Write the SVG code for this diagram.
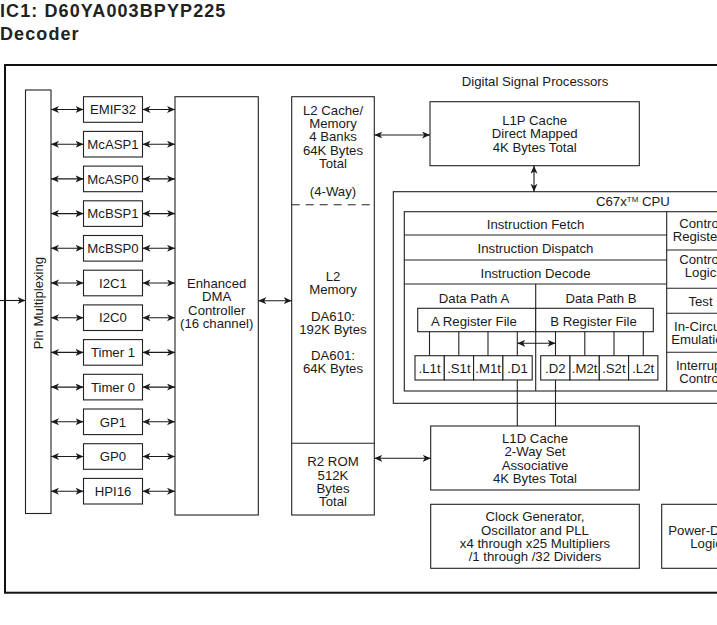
<svg xmlns="http://www.w3.org/2000/svg" width="717" height="625" viewBox="0 0 717 625">
<style>
text{font-family:"Liberation Sans",Arial,Helvetica,sans-serif;font-size:13.2px;fill:#1a1a1a}
.t{text-anchor:middle}
.title{font-size:18px;font-weight:bold;letter-spacing:1.1px;fill:#222}
.b{fill:#fff;stroke:#222;stroke-width:1.1}
.ln{fill:none;stroke:#222;stroke-width:1.1}
.ar{fill:none;stroke:#1a1a1a;stroke-width:1.1;marker-end:url(#ah)}
.dar{fill:none;stroke:#1a1a1a;stroke-width:1.1;marker-start:url(#ah);marker-end:url(#ah)}
</style>
<defs>
<marker id="ah" markerUnits="userSpaceOnUse" markerWidth="9" markerHeight="8" refX="8" refY="3.5" orient="auto-start-reverse">
<path d="M0,0 L8,3.5 L0,7 L2.2,3.5 Z" fill="#1a1a1a"/>
</marker>
</defs>
<rect width="717" height="625" fill="#fff"/>
<g id="title">
<text class="title" x="0" y="16.5">IC1:  D60YA003BPYP225</text>
<text class="title" x="0" y="39.5">Decoder</text>
</g>
<g id="frame">
<rect x="5" y="65" width="760" height="527.7" fill="none" stroke="#111" stroke-width="2"/>
<text class="t" x="535" y="86.4">Digital Signal Processors</text>
</g>
<g id="pinmux">
<rect class="b" x="25.5" y="90" width="25.5" height="423.5"/>
<text class="t" transform="translate(42.5,303) rotate(-90)">Pin Multiplexing</text>
</g>
<g id="peripherals">
<g id="emif32"><rect class="b" x="83.5" y="96.7" width="59" height="25.6"/><text class="t" x="113" y="114.2">EMIF32</text></g>
<g id="mcasp1"><rect class="b" x="83.5" y="131.4" width="59" height="25.6"/><text class="t" x="113" y="148.9">McASP1</text></g>
<g id="mcasp0"><rect class="b" x="83.5" y="166.1" width="59" height="25.6"/><text class="t" x="113" y="183.6">McASP0</text></g>
<g id="mcbsp1"><rect class="b" x="83.5" y="200.8" width="59" height="25.6"/><text class="t" x="113" y="218.3">McBSP1</text></g>
<g id="mcbsp0"><rect class="b" x="83.5" y="235.5" width="59" height="25.6"/><text class="t" x="113" y="253">McBSP0</text></g>
<g id="i2c1"><rect class="b" x="83.5" y="270.2" width="59" height="25.6"/><text class="t" x="113" y="287.7">I2C1</text></g>
<g id="i2c0"><rect class="b" x="83.5" y="304.9" width="59" height="25.6"/><text class="t" x="113" y="322.4">I2C0</text></g>
<g id="timer1"><rect class="b" x="83.5" y="339.6" width="59" height="25.6"/><text class="t" x="113" y="357.1">Timer 1</text></g>
<g id="timer0"><rect class="b" x="83.5" y="374.3" width="59" height="25.6"/><text class="t" x="113" y="391.8">Timer 0</text></g>
<g id="gp1"><rect class="b" x="83.5" y="409" width="59" height="25.6"/><text class="t" x="113" y="426.5">GP1</text></g>
<g id="gp0"><rect class="b" x="83.5" y="443.7" width="59" height="25.6"/><text class="t" x="113" y="461.2">GP0</text></g>
<g id="hpi16"><rect class="b" x="83.5" y="478.4" width="59" height="25.6"/><text class="t" x="113" y="495.9">HPI16</text></g>
</g>
<g id="dma">
<rect class="b" x="175" y="96.7" width="83.3" height="418.3"/>
<text class="t" x="216.7" y="287.9">Enhanced</text>
<text class="t" x="216.7" y="301.3">DMA</text>
<text class="t" x="216.7" y="314.7">Controller</text>
<text class="t" x="216.7" y="328.1">(16 channel)</text>
</g>
<g id="l2">
<rect class="b" x="291.7" y="96.7" width="82.6" height="418.3"/>
<line class="ln" x1="291.7" y1="204.7" x2="374.3" y2="204.7" stroke-dasharray="8,6"/>
<line class="ln" x1="291.7" y1="443.3" x2="374.3" y2="443.3"/>
<text class="t" x="333" y="114.7">L2 Cache/</text>
<text class="t" x="333" y="128">Memory</text>
<text class="t" x="333" y="141.4">4 Banks</text>
<text class="t" x="333" y="154.7">64K Bytes</text>
<text class="t" x="333" y="168">Total</text>
<text class="t" x="333" y="196.2">(4-Way)</text>
<text class="t" x="333" y="280.7">L2</text>
<text class="t" x="333" y="294">Memory</text>
<text class="t" x="333" y="320.7">DA610:</text>
<text class="t" x="333" y="334">192K Bytes</text>
<text class="t" x="333" y="359.7">DA601:</text>
<text class="t" x="333" y="373">64K Bytes</text>
</g>
<g id="r2rom">
<text class="t" x="333" y="466.4">R2 ROM</text>
<text class="t" x="333" y="479.7">512K</text>
<text class="t" x="333" y="493">Bytes</text>
<text class="t" x="333" y="506.4">Total</text>
</g>
<g id="l1p">
<rect class="b" x="430" y="101.7" width="209.3" height="64"/>
<text class="t" x="534.7" y="125.4">L1P Cache</text>
<text class="t" x="534.7" y="138.2">Direct Mapped</text>
<text class="t" x="534.7" y="151.9">4K Bytes Total</text>
</g>
<g id="cpu">
<rect class="b" x="393.3" y="191.7" width="360" height="211.6"/>
<text x="596" y="206.4">C67x<tspan font-size="8" dy="-4.5">TM</tspan><tspan dy="4.5"> CPU</tspan></text>
<rect class="b" x="404.3" y="211.7" width="340" height="179.3"/>
<line class="ln" x1="404.3" y1="235" x2="666.7" y2="235"/>
<line class="ln" x1="404.3" y1="260" x2="666.7" y2="260"/>
<line class="ln" x1="404.3" y1="284" x2="666.7" y2="284"/>
<line class="ln" x1="666.7" y1="211.7" x2="666.7" y2="391"/>
<line class="ln" x1="535.7" y1="284" x2="535.7" y2="391"/>
<text class="t" x="535.5" y="229">Instruction Fetch</text>
<text class="t" x="535.5" y="253">Instruction Dispatch</text>
<text class="t" x="535.5" y="277.8">Instruction Decode</text>
<text class="t" x="474" y="303">Data Path A</text>
<text class="t" x="601" y="303">Data Path B</text>
<rect class="b" x="417.7" y="308.3" width="118" height="23.4"/>
<rect class="b" x="535.7" y="308.3" width="117.6" height="23.4"/>
<text class="t" x="474" y="326.4">A Register File</text>
<text class="t" x="593.5" y="326.4">B Register File</text>
<line class="ln" x1="429.5" y1="331.7" x2="429.5" y2="355.7"/>
<line class="ln" x1="458.8" y1="331.7" x2="458.8" y2="355.7"/>
<line class="ln" x1="488" y1="331.7" x2="488" y2="355.7"/>
<line class="ln" x1="517.3" y1="331.7" x2="517.3" y2="355.7"/>
<line class="ln" x1="555.5" y1="331.7" x2="555.5" y2="355.7"/>
<line class="ln" x1="584.8" y1="331.7" x2="584.8" y2="355.7"/>
<line class="ln" x1="614" y1="331.7" x2="614" y2="355.7"/>
<line class="ln" x1="643.3" y1="331.7" x2="643.3" y2="355.7"/>
<g id="units">
<rect class="b" x="415" y="355.7" width="29.3" height="24.3"/><text class="t" x="429.6" y="373">.L1t</text>
<rect class="b" x="444.3" y="355.7" width="29.3" height="24.3"/><text class="t" x="458.9" y="373">.S1t</text>
<rect class="b" x="473.6" y="355.7" width="29.3" height="24.3"/><text class="t" x="488.2" y="373">.M1t</text>
<rect class="b" x="502.9" y="355.7" width="29.3" height="24.3"/><text class="t" x="517.5" y="373">.D1</text>
<rect class="b" x="540.7" y="355.7" width="29.3" height="24.3"/><text class="t" x="555.3" y="373">.D2</text>
<rect class="b" x="570" y="355.7" width="29.3" height="24.3"/><text class="t" x="584.6" y="373">.M2t</text>
<rect class="b" x="599.3" y="355.7" width="29.3" height="24.3"/><text class="t" x="613.9" y="373">.S2t</text>
<rect class="b" x="628.6" y="355.7" width="29.3" height="24.3"/><text class="t" x="643.2" y="373">.L2t</text>
</g>
<line class="ln" x1="666.7" y1="250" x2="744.3" y2="250"/>
<line class="ln" x1="666.7" y1="288.3" x2="744.3" y2="288.3"/>
<line class="ln" x1="666.7" y1="313.3" x2="744.3" y2="313.3"/>
<line class="ln" x1="666.7" y1="352.3" x2="744.3" y2="352.3"/>
<text class="t" x="700.5" y="228.2">Control</text>
<text class="t" x="700.5" y="241.4">Registers</text>
<text class="t" x="700.5" y="264">Control</text>
<text class="t" x="700.5" y="277">Logic</text>
<text class="t" x="700.5" y="305.5">Test</text>
<text class="t" x="700.5" y="331">In-Circuit</text>
<text class="t" x="700.5" y="344">Emulation</text>
<text class="t" x="700.5" y="369.7">Interrupt</text>
<text class="t" x="700.5" y="382.7">Control</text>
</g>
<g id="l1d">
<rect class="b" x="430.7" y="426" width="208.6" height="64"/>
<text class="t" x="535" y="443">L1D Cache</text>
<text class="t" x="535" y="456.4">2-Way Set</text>
<text class="t" x="535" y="469.7">Associative</text>
<text class="t" x="535" y="483">4K Bytes Total</text>
</g>
<g id="clock">
<rect class="b" x="430.7" y="504.3" width="208.6" height="64"/>
<text class="t" x="535" y="521.4">Clock Generator,</text>
<text class="t" x="535" y="534.7">Oscillator and PLL</text>
<text class="t" x="535" y="548">x4 through x25 Multipliers</text>
<text class="t" x="535" y="561.4">/1 through /32 Dividers</text>
</g>
<g id="powerdown">
<rect class="b" x="661.7" y="504.3" width="90" height="64"/>
<text class="t" x="706" y="534.7">Power-Down</text>
<text class="t" x="706" y="548">Logic</text>
</g>
<g id="connectors">
<line class="ar" x1="0" y1="300.5" x2="25.5" y2="300.5"/>
<line class="dar" x1="51" y1="109.5" x2="83.5" y2="109.5"/>
<line class="dar" x1="142.5" y1="109.5" x2="175" y2="109.5"/>
<line class="dar" x1="51" y1="144.2" x2="83.5" y2="144.2"/>
<line class="dar" x1="142.5" y1="144.2" x2="175" y2="144.2"/>
<line class="dar" x1="51" y1="178.9" x2="83.5" y2="178.9"/>
<line class="dar" x1="142.5" y1="178.9" x2="175" y2="178.9"/>
<line class="dar" x1="51" y1="213.6" x2="83.5" y2="213.6"/>
<line class="dar" x1="142.5" y1="213.6" x2="175" y2="213.6"/>
<line class="dar" x1="51" y1="248.3" x2="83.5" y2="248.3"/>
<line class="dar" x1="142.5" y1="248.3" x2="175" y2="248.3"/>
<line class="dar" x1="51" y1="283" x2="83.5" y2="283"/>
<line class="dar" x1="142.5" y1="283" x2="175" y2="283"/>
<line class="dar" x1="51" y1="317.7" x2="83.5" y2="317.7"/>
<line class="dar" x1="142.5" y1="317.7" x2="175" y2="317.7"/>
<line class="dar" x1="51" y1="352.4" x2="83.5" y2="352.4"/>
<line class="dar" x1="142.5" y1="352.4" x2="175" y2="352.4"/>
<line class="dar" x1="51" y1="387.1" x2="83.5" y2="387.1"/>
<line class="dar" x1="142.5" y1="387.1" x2="175" y2="387.1"/>
<line class="dar" x1="51" y1="421.8" x2="83.5" y2="421.8"/>
<line class="dar" x1="142.5" y1="421.8" x2="175" y2="421.8"/>
<line class="dar" x1="51" y1="456.5" x2="83.5" y2="456.5"/>
<line class="dar" x1="142.5" y1="456.5" x2="175" y2="456.5"/>
<line class="dar" x1="51" y1="491.2" x2="83.5" y2="491.2"/>
<line class="dar" x1="142.5" y1="491.2" x2="175" y2="491.2"/>
<line class="dar" x1="258.3" y1="300.7" x2="291.7" y2="300.7"/>
<line class="dar" x1="374.3" y1="135" x2="430" y2="135"/>
<line class="dar" x1="534" y1="165.7" x2="534" y2="191.7"/>
<line class="dar" x1="374.3" y1="458.3" x2="430.7" y2="458.3"/>
<line class="dar" x1="517.3" y1="343.3" x2="555.5" y2="343.3"/>
<line class="ln" x1="517.3" y1="380" x2="517.3" y2="426"/>
<line class="ln" x1="555.5" y1="380" x2="555.5" y2="426"/>
</g>
</svg>
